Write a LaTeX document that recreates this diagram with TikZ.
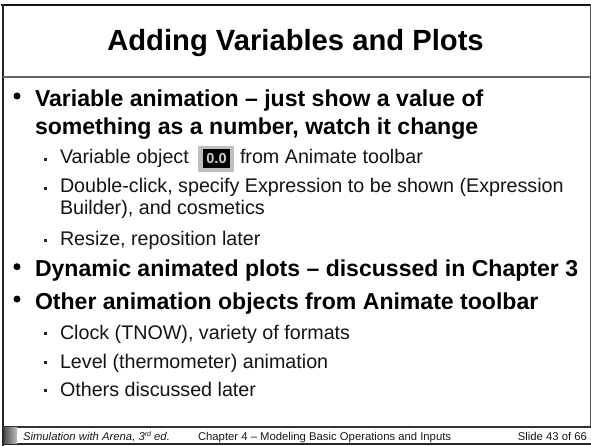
\documentclass[tikz,border=0pt]{standalone}
\usepackage{fontspec}
\setmainfont{Liberation Sans}
\tikzset{
 x=1pt,y=-1pt,
 lone/.style={anchor=base west,inner sep=0pt,outer sep=0pt,font=\fontsize{23.05}{23}\selectfont\bfseries},
 ltwo/.style={anchor=base west,inner sep=0pt,outer sep=0pt,text=black!92,font=\fontsize{19.7}{20}\selectfont},
 foot/.style={anchor=base west,inner sep=0pt,outer sep=0pt,text=black!90,font=\fontsize{11.3}{12}\selectfont},
 bone/.style={circle,fill=black,inner sep=0pt,minimum size=7pt},
 btwo/.style={rectangle,fill=black!85,inner sep=0pt,minimum size=3pt}
}
\begin{document}
\begin{tikzpicture}
\useasboundingbox (0,0) rectangle (591,446);
\fill[white] (0,0) rectangle (591,446);
% frame
\draw[line width=2.2pt,black!92] (1,5) -- (591,5);
\draw[line width=2pt,black!85] (3,4) -- (3,446);
\draw[line width=1.2pt,black!70] (590.2,4) -- (590.2,427);
\draw[line width=1.6pt,black!60] (3,77) -- (591,77);
\draw[line width=1.5pt,black!80] (3,426.8) -- (591,426.8);
\draw[line width=1.5pt,black!85] (3,444) -- (591,444);
% title
\node[anchor=base,inner sep=0pt,font=\fontsize{29.2}{30}\selectfont\bfseries] (title) at (295.5,50.7) {Adding Variables and Plots};
% bullets level 1
\node[bone] (b1) at (17,96) {};
\node[lone] (t1) at (35,106.7) {Variable animation -- just show a value of};
\node[lone] (t1b) at (35,135) {something as a number, watch it change};
\node[btwo] (s1) at (45.5,159.5) {};
\node[ltwo] (u1) at (60,164) {Variable object};
\fill[black!25] (198,146) rectangle (234,172);
\fill[black] (203,149) rectangle (230,168);
\node[inner sep=0pt,text=white!80!black,font=\fontsize{14.5}{15}\selectfont\bfseries] (ico) at (216.5,158.5) {0.0};
\node[ltwo] (u1b) at (240,164) {from Animate toolbar};
\node[btwo] (s2) at (45.5,188.5) {};
\node[ltwo] (u2) at (60,192.7) {Double-click, specify Expression to be shown (Expression};
\node[ltwo] (u2b) at (60,215) {Builder), and cosmetics};
\node[btwo] (s3) at (45.5,240.5) {};
\node[ltwo] (u3) at (60,245) {Resize, reposition later};
\node[bone] (b2) at (17,266.7) {};
\node[lone] (t2) at (35,276) {Dynamic animated plots -- discussed in Chapter 3};
\node[bone] (b3) at (17,299) {};
\node[lone] (t3) at (35,309) {Other animation objects from Animate toolbar};
\node[btwo] (s4) at (45.5,333.5) {};
\node[ltwo] (u4) at (60,339) {Clock (TNOW), variety of formats};
\node[btwo] (s5) at (45.5,362.5) {};
\node[ltwo] (u5) at (60,368) {Level (thermometer) animation};
\node[btwo] (s6) at (45.5,390.5) {};
\node[ltwo] (u6) at (60,396) {Others discussed later};
% footer
\shade[left color=black!70,right color=black!25] (4,427.5) rectangle (17,443.5);
\node[foot,font=\fontsize{11.3}{12}\selectfont\itshape] (f1) at (23,440) {Simulation with Arena, 3\raisebox{3.6pt}{\fontsize{7}{7}\selectfont rd} ed.};
\node[foot] (f2) at (198,440) {Chapter 4 -- Modeling Basic Operations and Inputs};
\node[foot,anchor=base east] (f3) at (587,440) {Slide 43 of 66};
\end{tikzpicture}
\end{document}
